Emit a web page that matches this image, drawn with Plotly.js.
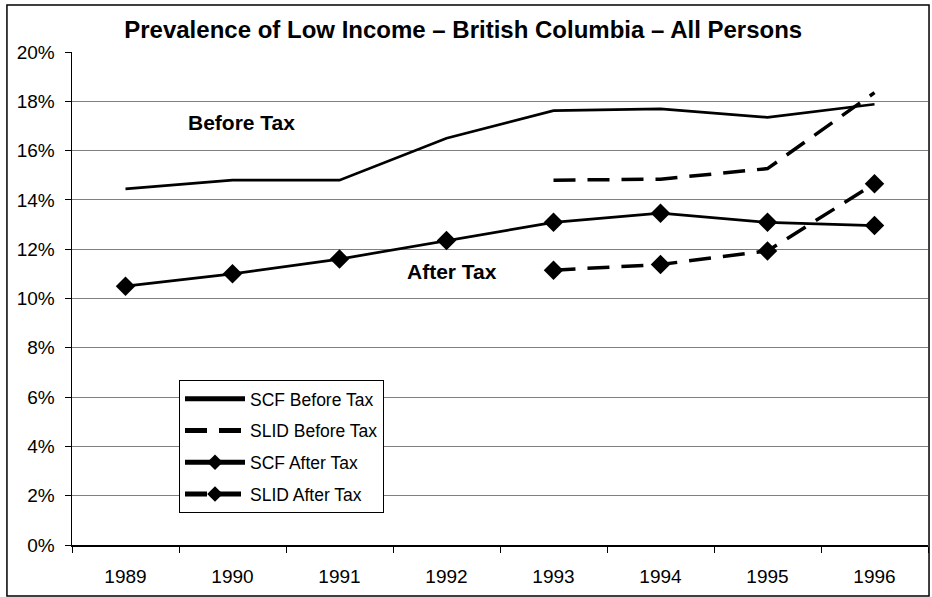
<!DOCTYPE html>
<html>
<head>
<meta charset="utf-8">
<script src="https://cdn.plot.ly/plotly-3.0.1.min.js"></script>
<style>
  html, body { margin: 0; padding: 0; background: #fff; }
  #chart { width: 932px; height: 597px; }
</style>
</head>
<body>
<div id="chart"></div>
<script>
const years = ["1989", "1990", "1991", "1992", "1993", "1994", "1995", "1996"];
const scfBefore = [14.45, 14.8, 14.8, 16.5, 17.62, 17.69, 17.35, 17.88];
const slidBefore = [null, null, null, null, 14.8, 14.84, 15.27, 18.35];
const scfAfter = [10.5, 11.0, 11.6, 12.35, 13.09, 13.46, 13.09, 12.96];
const slidAfter = [null, null, null, null, 11.15, 11.38, 11.93, 14.66];
const seriesNames = ["SCF Before Tax", "SLID Before Tax", "SCF After Tax", "SLID After Tax"];

const FONT = "Liberation Sans, Arial, sans-serif";
const dashed = "22px,12px";

const traces = [
  { x: years, y: scfBefore, name: seriesNames[0], mode: "lines",
    line: { color: "#000", width: 2.7 }, legendgroup: "a" },
  { x: years, y: slidBefore, name: seriesNames[1], mode: "lines",
    line: { color: "#000", width: 3.5, dash: dashed }, legendgroup: "b" },
  { x: years, y: scfAfter, name: seriesNames[2], mode: "lines+markers",
    line: { color: "#000", width: 2.7 },
    marker: { symbol: "diamond", size: 15, color: "#000" }, legendgroup: "c" },
  { x: years, y: slidAfter, name: seriesNames[3], mode: "lines+markers",
    line: { color: "#000", width: 3.5, dash: dashed },
    marker: { symbol: "diamond", size: 15, color: "#000" }, legendgroup: "d" }
];

const layout = {
  width: 932, height: 597,
  margin: { l: 72, r: 4, t: 52, b: 52 },
  paper_bgcolor: "#fff", plot_bgcolor: "#fff",
  font: { family: FONT, color: "#000", size: 16 },
  title: {
    text: "<b>Prevalence of Low Income – British Columbia – All Persons</b>",
    font: { family: FONT, size: 24, color: "#000" },
    x: 0.497, xref: "container", xanchor: "center",
    y: 0.95, yref: "container", yanchor: "middle"
  },
  xaxis: {
    type: "category", range: [-0.5, 7.5],
    showgrid: false, zeroline: false,
    showline: true, linecolor: "#000", linewidth: 1.5,
    ticks: "outside", tickson: "boundaries", ticklen: 6, tickcolor: "#000",
    tickfont: { family: FONT, size: 19 },
    ticklabelstandoff: 14
  },
  yaxis: {
    range: [0, 20], dtick: 2, ticksuffix: "%",
    showgrid: true, gridcolor: "#808080", gridwidth: 1,
    zeroline: false,
    showline: true, linecolor: "#000", linewidth: 1.5,
    ticks: "outside", ticklen: 6, tickcolor: "#000",
    tickfont: { family: FONT, size: 19 },
    ticklabelstandoff: 6
  },
  legend: {
    x: 0.125, xanchor: "left", y: 0.335, yanchor: "top",
    bgcolor: "#fff", bordercolor: "#000", borderwidth: 1,
    font: { family: FONT, size: 17.5 },
    tracegroupgap: 6, itemwidth: 60, itemsizing: "constant"
  },
  showlegend: true,
  annotations: [
    { text: "<b>Before Tax</b>", xref: "paper", yref: "paper",
      x: 0.198, y: 0.856, xanchor: "center", yanchor: "middle",
      showarrow: false, font: { family: FONT, size: 21 } },
    { text: "<b>After Tax</b>", xref: "paper", yref: "paper",
      x: 0.444, y: 0.554, xanchor: "center", yanchor: "middle",
      showarrow: false, font: { family: FONT, size: 21 } }
  ],
  shapes: [
    { type: "rect", xref: "paper", yref: "paper",
      x0: -0.076, x1: 1.0012, y0: -0.1034, y1: 1.0953,
      line: { color: "#000", width: 1.5 }, layer: "above" }
  ]
};

Plotly.newPlot("chart", traces, layout, { displayModeBar: false, staticPlot: true });
</script>
</body>
</html>
